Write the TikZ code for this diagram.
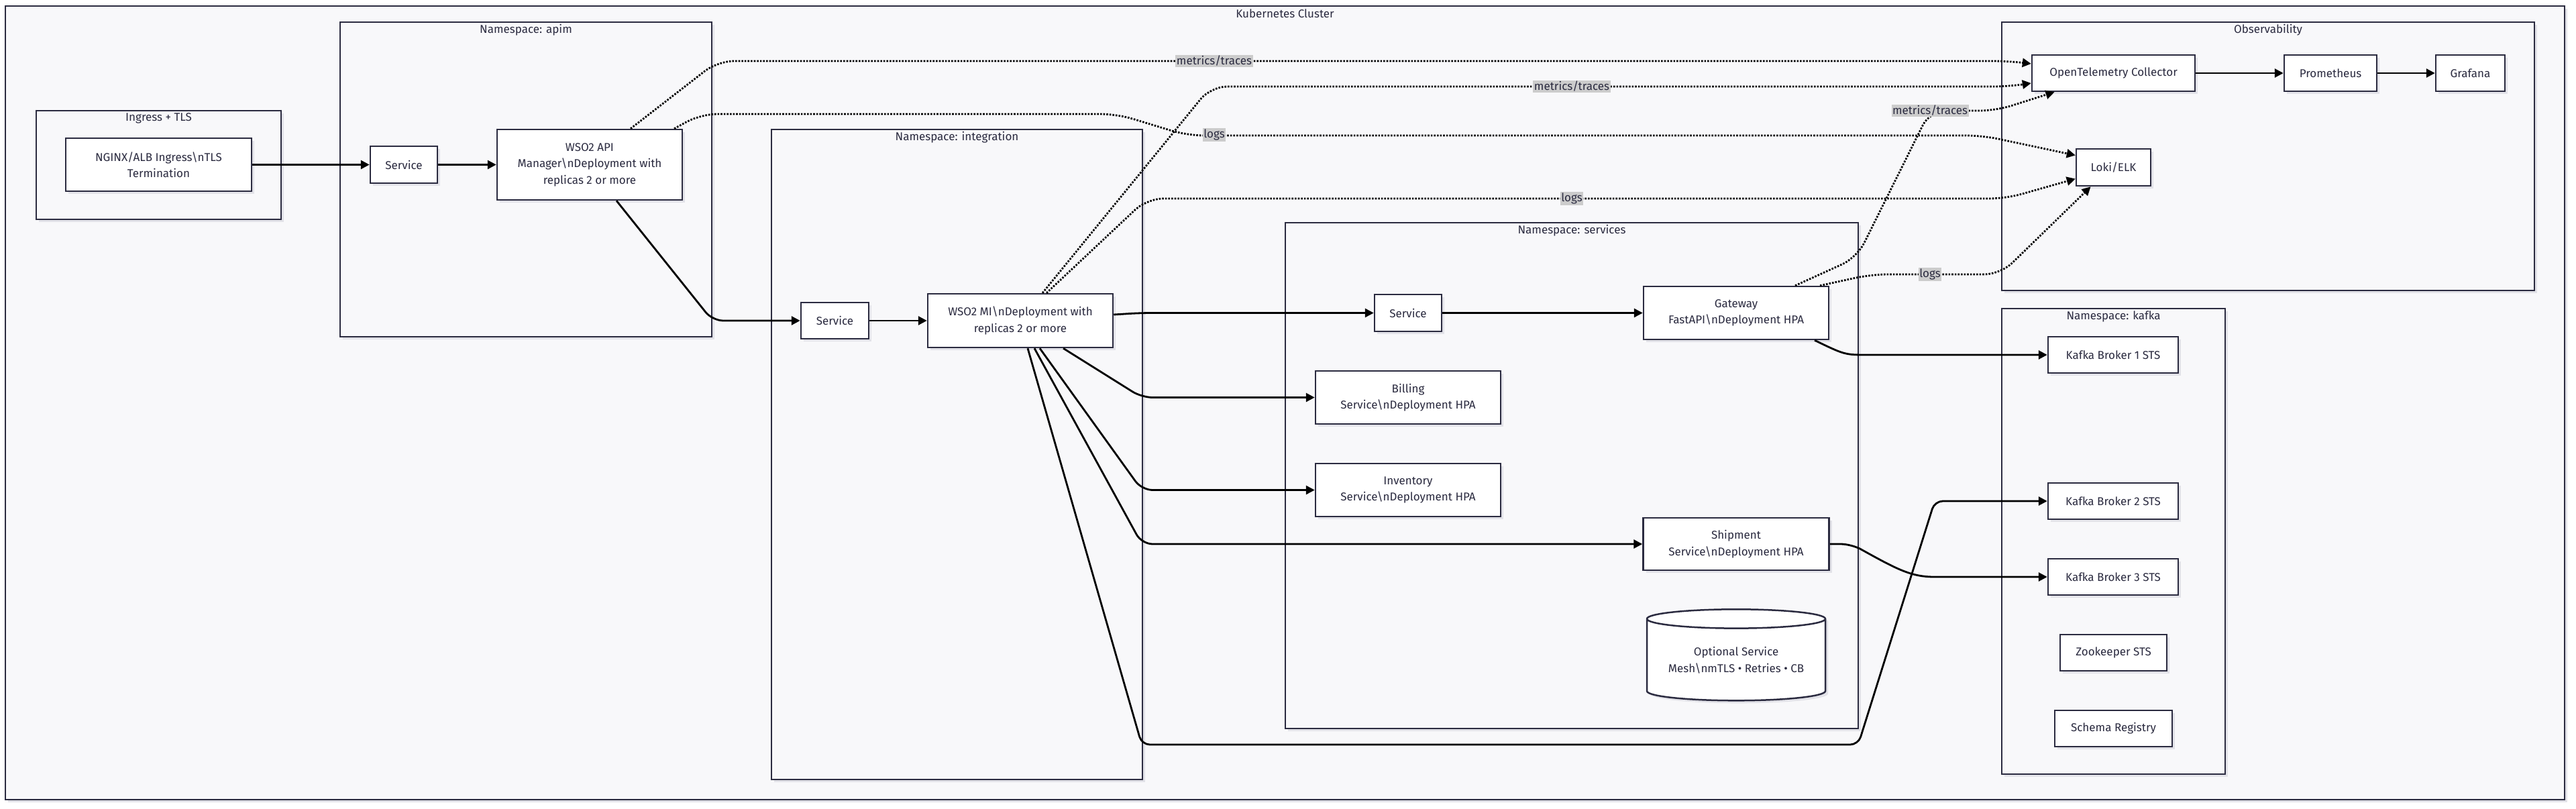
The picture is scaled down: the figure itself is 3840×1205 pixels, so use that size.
\documentclass[tikz,border=0pt]{standalone}
\usepackage{fontspec}
\setmainfont{Fira Sans}
\usepackage{xcolor}
\usetikzlibrary{arrows.meta,shapes.geometric,shadows,fit}

\definecolor{ink}{HTML}{2B2B40}
\definecolor{zonebg}{HTML}{F8F8FA}
\definecolor{tagbg}{HTML}{CCCCCC}
\definecolor{shade}{HTML}{E2E2E8}

\begin{document}
\begin{tikzpicture}[x=1pt, y=-1pt,
      font=\fontsize{17}{24.5}\selectfont, text=ink,
      zone/.style={draw=ink, line width=2.5pt, fill=zonebg, inner sep=0pt,
        drop shadow={shadow xshift=4pt, shadow yshift=-4pt, fill=shade, opacity=1}},
      box/.style={draw=ink, line width=2.5pt, fill=white, align=center, inner sep=0pt,
        drop shadow={shadow xshift=4pt, shadow yshift=-4pt, fill=shade, opacity=1}},
      flow/.style={draw=black, line width=2.8pt, rounded corners=16pt,
        -{Triangle[length=13pt, width=13pt]}},
      tele/.style={draw=black, line width=2.8pt, rounded corners=24pt,
        dash pattern=on 2.6pt off 2pt, -{Triangle[length=13pt, width=13pt]}},
      tag/.style={fill=tagbg, inner sep=1.5pt}
      ]
      \useasboundingbox (0,0) rectangle (3840,1205);

      \node[zone, fit={(8,9) (3823,1192)}] (cluster) {};
      \node (clusterTitle) at ([yshift=-12]cluster.north) {Kubernetes Cluster};

      \node[zone, fit={(54,165) (419,327)}] (ingress) {};
      \node (ingressTitle) at ([yshift=-13]ingress.north) {Ingress + TLS};
      \node[zone, fit={(507,33) (1061,502)}] (apim) {};
      \node (apimTitle) at ([yshift=-13]apim.north) {Namespace: apim};
      \node[zone, fit={(1150,193) (1703,1162)}] (integ) {};
      \node (integTitle) at ([yshift=-13]integ.north) {Namespace: integration};
      \node[zone, fit={(1916,332) (2770,1086)}] (svcs) {};
      \node (svcsTitle) at ([yshift=-13]svcs.north) {Namespace: services};
      \node[zone, fit={(2984,33) (3778,433)}] (obs) {};
      \node (obsTitle) at ([yshift=-13]obs.north) {Observability};
      \node[zone, fit={(2984,460) (3317,1154)}] (kafka) {};
      \node (kafkaTitle) at ([yshift=-13]kafka.north) {Namespace: kafka};

      \node[box, minimum width=277, minimum height=79] (nginx) at (236.5,245.5)
        {NGINX/ALB Ingress\textbackslash nTLS\\Termination};
      \node[box, minimum width=100, minimum height=55] (svcApim) at (602,245.5) {Service};
      \node[box, minimum width=276, minimum height=105] (apimMgr) at (879,245.5)
        {WSO2 API\\Manager\textbackslash nDeployment with\\replicas 2 or more};
      \node[box, minimum width=101, minimum height=54] (svcInt) at (1244.5,478) {Service};
      \node[box, minimum width=276, minimum height=80] (mi) at (1521,478)
        {WSO2 MI\textbackslash nDeployment with\\replicas 2 or more};
      \node[box, minimum width=100, minimum height=55] (svcSvc) at (2099,466.5) {Service};
      \node[box, minimum width=276, minimum height=79] (gateway) at (2588,466.5)
        {Gateway\\FastAPI\textbackslash nDeployment HPA};
      \node[box, minimum width=276, minimum height=79] (billing) at (2099,592.5)
        {Billing\\Service\textbackslash nDeployment HPA};
      \node[box, minimum width=276, minimum height=79] (inventory) at (2099,730.5)
        {Inventory\\Service\textbackslash nDeployment HPA};
      \node[box, minimum width=277, minimum height=78] (shipment) at (2588,811)
        {Shipment\\Service\textbackslash nDeployment HPA};
      \node[box, cylinder, shape border rotate=90, aspect=0.14,
        minimum width=266, minimum height=136] (mesh) at (2588,984)
        {Optional Service\\Mesh\textbackslash nmTLS • Retries • CB};

      \node[box, minimum width=243, minimum height=54] (otel) at (3150.5,109) {OpenTelemetry Collector};
      \node[box, minimum width=138, minimum height=54] (prom) at (3474,109) {Prometheus};
      \node[box, minimum width=103, minimum height=54] (grafana) at (3682.5,109) {Grafana};
      \node[box, minimum width=111, minimum height=55] (loki) at (3150.5,249.5) {Loki/ELK};

      \node[box, minimum width=194, minimum height=54] (broker1) at (3150,529) {Kafka Broker 1 STS};
      \node[box, minimum width=194, minimum height=54] (broker2) at (3150,747) {Kafka Broker 2 STS};
      \node[box, minimum width=194, minimum height=54] (broker3) at (3150,860) {Kafka Broker 3 STS};
      \node[box, minimum width=159, minimum height=54] (zookeeper) at (3150.5,973) {Zookeeper STS};
      \node[box, minimum width=175, minimum height=54] (registry) at (3150.5,1086) {Schema Registry};

      \draw[flow] (nginx) -- (svcApim);
      \draw[flow] (svcApim) -- (apimMgr);
      \draw[flow] ([xshift=40]apimMgr.south) -- (1062,478) -- (svcInt);
      \draw[flow] (svcInt) -- (mi);
      \draw[flow] ([yshift=9]mi.east) -- (1700,466.5) -- (svcSvc);
      \draw[flow] (svcSvc) -- (gateway);
      \draw[flow] ([xshift=64]mi.south) -- (1702,592.5) -- (billing);
      \draw[flow] ([xshift=29]mi.south) -- (1702,730.5) -- (inventory);
      \draw[flow] ([xshift=21]mi.south) -- (1702,811) -- (shipment);
      \draw[flow, rounded corners=12pt] ([xshift=11]mi.south) -- (1702,1110) -- (2770,1110)
        -- (2884,747) -- (broker2);
      \draw[flow] ([xshift=117]gateway.south) .. controls (2750,529) .. (2800,529) -- (broker1);
      \draw[flow] (shipment.east) -- (2760,811) .. controls (2830,850) and (2850,860) .. (2900,860)
        -- (broker3);
      \draw[flow] (otel) -- (prom);
      \draw[flow] (prom) -- (grafana);

      \draw[tele] ([xshift=61]apimMgr.north) -- (1070,91) -- (2995,91) -- ([yshift=14]otel.west);
      \draw[tele] ([xshift=126]apimMgr.north) -- (1045,170) -- (1665,170) -- (1770,202)
        -- (2955,202) -- ([yshift=18]loki.west);
      \draw[tele] ([xshift=33]mi.north) -- (1805,129) -- (2995,129) -- ([yshift=-15]otel.west);
      \draw[tele] ([xshift=39]mi.north) -- (1710,296) -- (2990,296) -- ([yshift=-17]loki.west);
      \draw[tele] ([xshift=88]gateway.north) -- (2768,384) -- (2877,165) -- (2975,165)
        -- ([xshift=-88]otel.south);
      \draw[tele] ([xshift=125]gateway.north) -- (2790,409) -- (2982,409) -- ([xshift=-34]loki.south);

      \node[tag] (tagA) at (1810,91) {metrics/traces};
      \node[tag] (tagB) at (1810,201) {logs};
      \node[tag] (tagC) at (2343,129) {metrics/traces};
      \node[tag] (tagD) at (2343,296) {logs};
      \node[tag] (tagE) at (2877,165) {metrics/traces};
      \node[tag] (tagF) at (2877,409) {logs};
    \end{tikzpicture}
\end{document}
